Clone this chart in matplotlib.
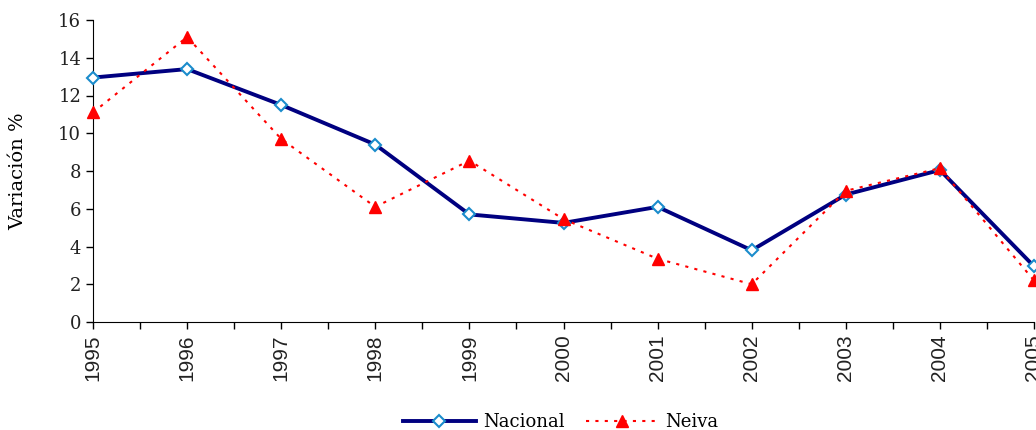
import matplotlib
matplotlib.use("Agg")
import matplotlib.pyplot as plt
import numpy as np

years = ["1995", "1996", "1997", "1998", "1999", "2000", "2001", "2002", "2003", "2004", "2005"]
nacional = [12.95, 13.4, 11.5, 9.4, 5.7, 5.25, 6.1, 3.8, 6.75, 8.05, 2.95]
neiva = [11.1, 15.1, 9.7, 6.1, 8.55, 5.45, 3.35, 2.0, 6.95, 8.15, 2.2]
y_ticks = [0, 2, 4, 6, 8, 10, 12, 14, 16]

fig = plt.figure(figsize=(10.36, 4.3), dpi=100)
ax = fig.add_axes([93/1036, (430-322)/430, (1034-93)/1036, (322-20)/430])

x = np.arange(len(years))
ax.plot(x, nacional, color="#000080", lw=2.8, marker="D", markersize=6.5,
        markerfacecolor="white", markeredgecolor="#1a8ccc", markeredgewidth=1.5,
        label="Nacional", clip_on=False, zorder=3)
ax.plot(x, neiva, color="#ff0000", lw=1.5, ls=(0, (1.5, 3)), marker="^", markersize=9,
        markerfacecolor="#ff0000", markeredgecolor="#ff0000",
        label="Neiva", clip_on=False, zorder=4)

ax.set_xlim(0, len(years) - 1)
ax.set_ylim(0, 16)
ax.set_yticks(y_ticks)
ax.set_yticklabels([str(v) for v in y_ticks], fontfamily="DejaVu Serif", fontsize=13, color="#222222")
ax.set_xticks(x)
ax.set_xticklabels(years, rotation=90, fontfamily="Liberation Sans", fontsize=15, color="#222222")
ax.set_xticks(np.arange(0.5, len(years) - 1, 1.0), minor=True)
ax.tick_params(axis="x", which="both", direction="out", length=5, width=1, pad=4)
ax.tick_params(axis="y", direction="out", length=5, width=1)
ax.spines["top"].set_visible(False)
ax.spines["right"].set_visible(False)
ax.set_ylabel("Variación %", fontfamily="DejaVu Serif", fontsize=14, labelpad=22)

leg = ax.legend(loc="center", ncol=2, frameon=False,
                prop={"family": "DejaVu Serif", "size": 13},
                handlelength=4.0, columnspacing=1.2, handletextpad=0.4)
leg.set_bbox_to_anchor(((561-93)/941, -(422-322)/302), transform=ax.transAxes)

fig.savefig("out.png", dpi=100)
